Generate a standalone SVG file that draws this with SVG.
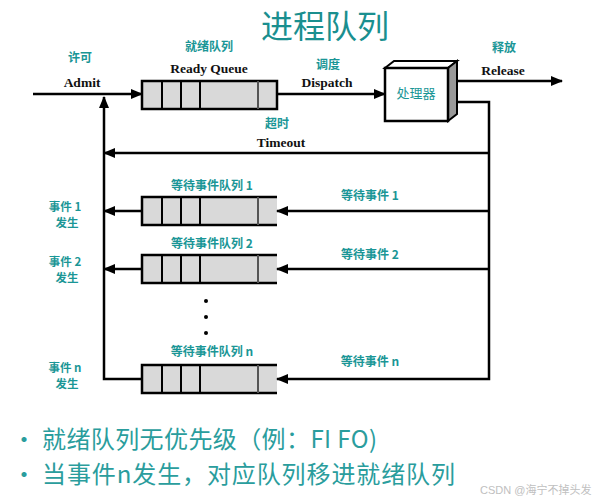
<svg xmlns="http://www.w3.org/2000/svg" width="595" height="500" viewBox="0 0 595 500">
<defs>
<style>
.cn{font-family:"Noto Sans CJK SC","Noto Sans",sans-serif;font-weight:bold;font-size:12px;fill:#1a9696;text-anchor:middle}
.sm{font-size:11.5px}
.en{font-family:"Liberation Serif",serif;font-weight:bold;font-size:13.5px;fill:#111;text-anchor:middle}
.ln{fill:none;stroke:#000;stroke-width:2.5}
.q{fill:#d9d9d9;stroke:none}
.qb{fill:none;stroke:#000;stroke-width:2.5}
.dv{stroke:#000;stroke-width:2}
.dvg{stroke:#555;stroke-width:2}
.bul{font-family:"Noto Sans CJK SC","Noto Sans",sans-serif;font-size:24px;fill:#2a9d9d}
</style>
<marker id="ah" viewBox="0 0 12 10" refX="11" refY="5" markerWidth="12" markerHeight="10" markerUnits="userSpaceOnUse" orient="auto">
<path d="M0,0 L12,5 L0,10 Z" fill="#000"/>
</marker>
</defs>
<rect width="595" height="500" fill="#fff"/>
<text x="325" y="38" style="font-family:'Noto Sans CJK SC',sans-serif;font-size:32px;fill:#1a8f8f;text-anchor:middle">进程队列</text>

<g id="ready-queue">
<rect class="q" x="142" y="81" width="135" height="28"/>
<rect class="qb" x="142" y="81" width="135" height="28"/>
<line class="dv" x1="162" y1="81" x2="162" y2="109"/>
<line class="dv" x1="181" y1="81" x2="181" y2="109"/>
<line class="dv" x1="200" y1="81" x2="200" y2="109"/>
<line class="dvg" x1="258" y1="81" x2="258" y2="109"/>
<text class="cn" x="209" y="51">就绪队列</text>
<text class="en" x="209" y="73">Ready Queue</text>
</g>

<g id="processor">
<polygon points="385,68 394,61 457,61 448,68" fill="#fff" stroke="#000" stroke-width="2"/>
<polygon points="448,68 457,61 457,114 448,121" fill="#999" stroke="#000" stroke-width="2"/>
<rect x="385" y="68" width="63" height="53" fill="#fff" stroke="#000" stroke-width="2.5"/>
<text class="cn" x="416" y="98" style="font-size:13px;font-weight:normal">处理器</text>
</g>

<g id="wait-queue-1">
<rect class="q" x="142" y="197" width="135" height="28"/>
<path class="qb" d="M277,197 H142 V225 H277"/>
<line class="dv" x1="162" y1="197" x2="162" y2="225"/>
<line class="dv" x1="181" y1="197" x2="181" y2="225"/>
<line class="dv" x1="200" y1="197" x2="200" y2="225"/>
<line class="dvg" x1="258" y1="197" x2="258" y2="225"/>
<text class="cn" x="212" y="190">等待事件队列 1</text>
</g>

<g id="wait-queue-2">
<rect class="q" x="142" y="255" width="135" height="28"/>
<path class="qb" d="M277,255 H142 V283 H277"/>
<line class="dv" x1="162" y1="255" x2="162" y2="283"/>
<line class="dv" x1="181" y1="255" x2="181" y2="283"/>
<line class="dv" x1="200" y1="255" x2="200" y2="283"/>
<line class="dvg" x1="258" y1="255" x2="258" y2="283"/>
<text class="cn" x="212" y="248">等待事件队列 2</text>
</g>

<g id="wait-queue-n">
<rect class="q" x="142" y="365" width="135" height="28"/>
<path class="qb" d="M277,365 H142 V393 H277"/>
<line class="dv" x1="162" y1="365" x2="162" y2="393"/>
<line class="dv" x1="181" y1="365" x2="181" y2="393"/>
<line class="dv" x1="200" y1="365" x2="200" y2="393"/>
<line class="dvg" x1="258" y1="365" x2="258" y2="393"/>
<text class="cn" x="212" y="356">等待事件队列 n</text>
</g>

<g id="dots" fill="#000">
<circle cx="206" cy="301" r="2"/>
<circle cx="206" cy="317" r="2"/>
<circle cx="206" cy="333" r="2"/>
</g>

<g id="connectors">
<line class="ln" x1="33" y1="94" x2="142" y2="94" marker-end="url(#ah)"/>
<polyline class="ln" points="142,379 104,379 104,97" marker-end="url(#ah)"/>
<line class="ln" x1="277" y1="94" x2="385" y2="94" marker-end="url(#ah)"/>
<line class="ln" x1="457" y1="81" x2="562" y2="81" marker-end="url(#ah)"/>
<polyline class="ln" points="457,102 489,102 489,379 277,379" marker-end="url(#ah)"/>
<line class="ln" x1="489" y1="153" x2="104" y2="153" marker-end="url(#ah)"/>
<line class="ln" x1="489" y1="211" x2="277" y2="211" marker-end="url(#ah)"/>
<line class="ln" x1="489" y1="269" x2="277" y2="269" marker-end="url(#ah)"/>
<line class="ln" x1="142" y1="211" x2="104" y2="211" marker-end="url(#ah)"/>
<line class="ln" x1="142" y1="269" x2="104" y2="269" marker-end="url(#ah)"/>
</g>

<g id="labels">
<text class="cn" x="80" y="62">许可</text>
<text class="en" x="82" y="87">Admit</text>
<text class="cn" x="328" y="69">调度</text>
<text class="en" x="327" y="87">Dispatch</text>
<text class="cn" x="504" y="52">释放</text>
<text class="en" x="503" y="75">Release</text>
<text class="cn" x="277" y="128">超时</text>
<text class="en" x="281" y="147">Timeout</text>
<text class="cn" x="370" y="200">等待事件 1</text>
<text class="cn" x="370" y="259">等待事件 2</text>
<text class="cn" x="370" y="366">等待事件 n</text>
<text class="cn sm" x="65" y="211">事件 1</text>
<text class="cn sm" x="67" y="227">发生</text>
<text class="cn sm" x="65" y="266">事件 2</text>
<text class="cn sm" x="67" y="282">发生</text>
<text class="cn sm" x="65" y="372">事件 n</text>
<text class="cn sm" x="67" y="388">发生</text>
</g>

<g id="bullets">
<text class="bul" x="12" y="448">•</text>
<text class="bul" x="42" y="448" textLength="335" lengthAdjust="spacing">就绪队列无优先级（例：FI FO)</text>
<text class="bul" x="12" y="483">•</text>
<text class="bul" x="42" y="483" textLength="413" lengthAdjust="spacing">当事件n发生，对应队列移进就绪队列</text>
</g>
<text x="480" y="494" style="font-family:'Liberation Sans','Noto Sans CJK SC',sans-serif;font-size:11px;fill:#c0c0c0">CSDN @海宁不掉头发</text>
</svg>
